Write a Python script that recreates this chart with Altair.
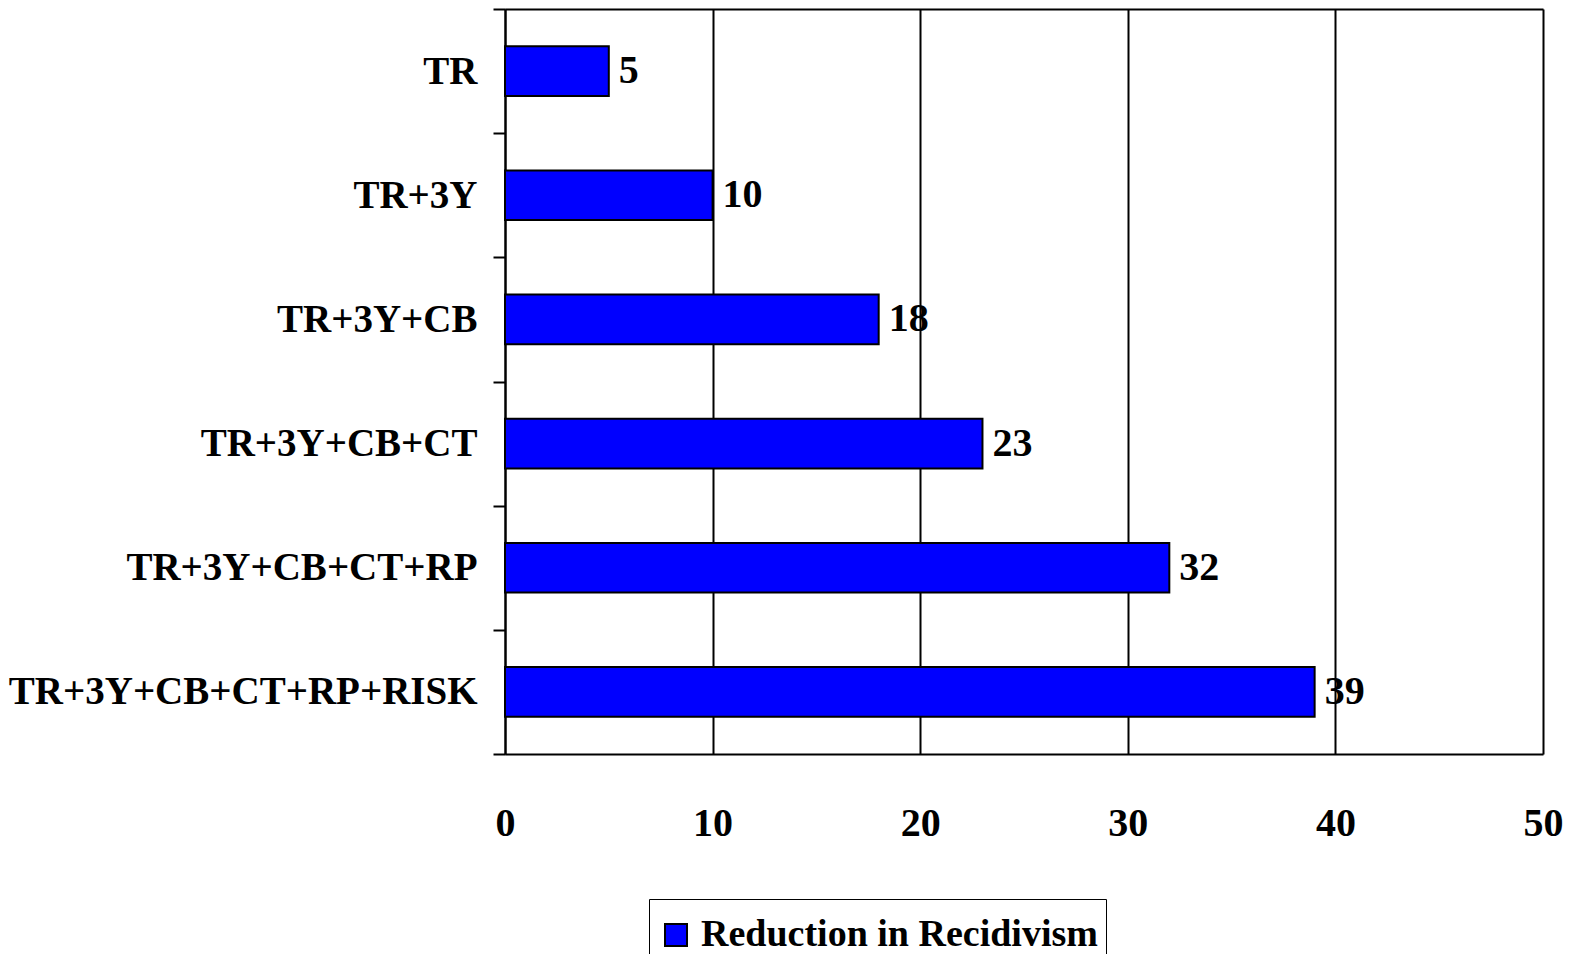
import altair as alt
import pandas as pd

categories = ["TR", "TR+3Y", "TR+3Y+CB", "TR+3Y+CB+CT", "TR+3Y+CB+CT+RP", "TR+3Y+CB+CT+RP+RISK"]
values = [5, 10, 18, 23, 32, 39]
series = "Reduction in Recidivism"
x_ticks = [0, 10, 20, 30, 40, 50]

df = pd.DataFrame({"cat": categories, "val": values, "series": [series] * len(values)})

FONT = "Liberation Serif"

y_enc = alt.Y(
    "cat:N",
    sort=categories,
    scale=alt.Scale(paddingInner=0, paddingOuter=0),
    axis=alt.Axis(
        title=None,
        tickBand="extent",
        tickSize=12,
        tickWidth=2,
        tickColor="black",
        domainColor="black",
        domainWidth=2,
        labelFont=FONT,
        labelFontWeight="bold",
        labelFontSize=39,
        labelColor="black",
        labelPadding=16,
        labelLimit=1000,
        grid=False,
    ),
)

x_enc = alt.X(
    "val:Q",
    scale=alt.Scale(domain=[0, 50], nice=False),
    axis=alt.Axis(
        title=None,
        orient="bottom",
        values=x_ticks,
        ticks=False,
        domain=True,
        domainColor="black",
        domainWidth=2,
        grid=True,
        gridColor="black",
        gridWidth=2,
        gridOpacity=1,
        labelFont=FONT,
        labelFontWeight="bold",
        labelFontSize=40,
        labelColor="black",
        labelPadding=49,
        labelFlush=False,
        labelOverlap=False,
    ),
)

bars = alt.Chart(df).mark_bar(
    height=alt.RelativeBandSize(0.4),
    stroke="black",
    strokeWidth=2,
).encode(
    x=x_enc,
    y=y_enc,
    color=alt.Color(
        "series:N",
        scale=alt.Scale(domain=[series], range=["#0000FF"]),
        legend=alt.Legend(
            title=" ",
            titleFontSize=6,
            titlePadding=3,
            orient="none",
            legendX=144,
            legendY=890,
            symbolType="square",
            symbolSize=484,
            symbolStrokeColor="black",
            symbolStrokeWidth=2,
            symbolOpacity=1,
            labelFont=FONT,
            labelFontWeight="bold",
            labelFontSize=38,
            labelColor="black",
            labelOffset=6,
            labelLimit=1000,
            strokeColor="black",
            padding=8,
            fillColor="white",
        ),
    ),
)

labels = alt.Chart(df).mark_text(
    align="left",
    baseline="middle",
    dx=10,
    font=FONT,
    fontWeight="bold",
    fontSize=40,
    color="black",
).encode(
    x=alt.X(
        "val:Q",
        axis=alt.Axis(
            title=None,
            orient="top",
            labels=False,
            ticks=False,
            grid=False,
            domain=True,
            domainColor="black",
            domainWidth=2,
        ),
    ),
    y=alt.Y("cat:N", sort=categories),
    text=alt.Text("val:Q"),
)

chart = (
    alt.layer(bars, labels)
    .resolve_axis(x="independent")
    .properties(
        width=1038,
        height=745,
        autosize=alt.AutoSizeParams(type="none"),
        padding={"left": 497, "top": 1, "right": 20, "bottom": 200},
    )
    .configure_view(stroke="black", strokeWidth=2)
    .configure_legend(strokeWidth=2)
    .configure(background="white")
)

chart.save("out.html", embed_options={"renderer": "svg", "actions": False})
